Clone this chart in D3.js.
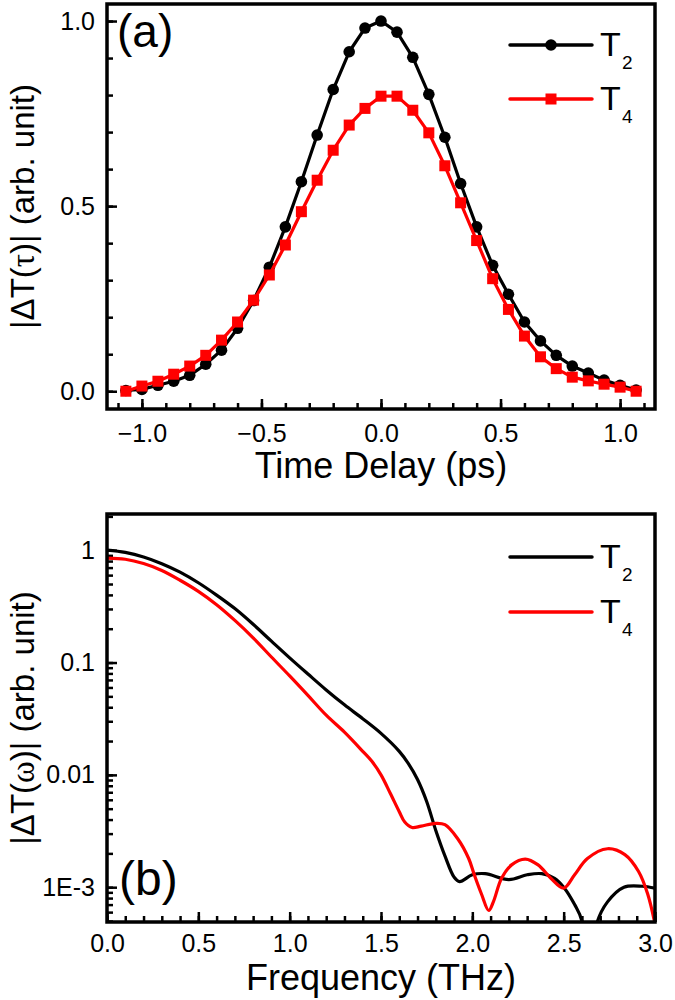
<!DOCTYPE html>
<html>
<head>
<meta charset="utf-8">
<script src="https://cdn.jsdelivr.net/npm/d3@7"></script>
<style>
body { margin: 0; background: #fff; }
svg { display: block; font-family: "Liberation Sans", Arial, sans-serif; }
</style>
</head>
<body>
<svg id="chart" width="675" height="1000"></svg>
<script>
// panel (a): time domain, points every ~0.067 ps
const delay = [-1.067, -1.000, -0.933, -0.867, -0.800, -0.733, -0.667, -0.600, -0.533, -0.467, -0.400,
    -0.333, -0.267, -0.200, -0.133, -0.067, 0.000, 0.067, 0.133, 0.200, 0.267, 0.333, 0.400, 0.467,
    0.533, 0.600, 0.667, 0.733, 0.800, 0.867, 0.933, 1.000, 1.067];
const t2Time = [0.002, 0.005, 0.016, 0.027, 0.043, 0.073, 0.111, 0.170, 0.245, 0.335, 0.444,
    0.566, 0.692, 0.815, 0.917, 0.981, 1.000, 0.970, 0.902, 0.802, 0.686, 0.561, 0.444, 0.340,
    0.262, 0.187, 0.136, 0.097, 0.068, 0.049, 0.030, 0.016, 0.003];
const t4Time = [0.000, 0.014, 0.027, 0.046, 0.068, 0.097, 0.138, 0.187, 0.246, 0.314, 0.395,
    0.485, 0.570, 0.651, 0.719, 0.764, 0.797, 0.797, 0.759, 0.698, 0.609, 0.509, 0.407, 0.304,
    0.221, 0.149, 0.093, 0.061, 0.038, 0.028, 0.019, 0.011, 0.000];

// panel (b): spectra
const freqT2 = [0.0, 0.1, 0.2, 0.3, 0.4, 0.5, 0.6, 0.7, 0.8, 0.9, 1.0, 1.1, 1.2, 1.3, 1.4, 1.5,
    1.6, 1.65, 1.7, 1.75, 1.8, 1.85, 1.9, 1.93, 2.0, 2.07, 2.2, 2.3, 2.38, 2.45, 2.5, 2.56, 2.6,
    2.63, 2.68, 2.74, 2.83, 2.93, 3.0];
const t2Freq = [1.0, 0.955, 0.871, 0.759, 0.638, 0.513, 0.398, 0.302, 0.219, 0.155, 0.110, 0.079,
    0.057, 0.042, 0.0316, 0.0234, 0.0162, 0.0126, 0.0091, 0.0058, 0.0032, 0.0019, 0.00123, 0.00112,
    0.00129, 0.00132, 0.00117, 0.00129, 0.00132, 0.0012, 0.001, 0.0007, 0.0005, 0.0001, 0.00047,
    0.00074, 0.001, 0.00102, 0.00098];
const freqT4 = [0.0, 0.1, 0.2, 0.3, 0.4, 0.5, 0.6, 0.7, 0.8, 0.9, 1.0, 1.1, 1.2, 1.3, 1.4, 1.45,
    1.5, 1.55, 1.6, 1.63, 1.67, 1.72, 1.8, 1.85, 1.92, 1.98, 2.01, 2.05, 2.09, 2.115, 2.16, 2.215, 2.29,
    2.36, 2.43, 2.5, 2.56, 2.63, 2.74, 2.835, 2.91, 2.96, 3.0];
const t4Freq = [0.85, 0.83, 0.76, 0.66, 0.54, 0.43, 0.327, 0.237, 0.166, 0.112, 0.076, 0.051, 0.034,
    0.024, 0.0162, 0.0132, 0.0100, 0.0069, 0.0047, 0.0038, 0.0034, 0.0035, 0.0037, 0.0036, 0.0027, 0.0018,
    0.0013, 0.00087, 0.00062, 0.00074, 0.0012, 0.00158, 0.00178, 0.00158, 0.0012, 0.00098, 0.00129,
    0.0018, 0.0022, 0.00195, 0.00138, 0.00087, 0.00047];

const timeTicks = [-1.0, -0.5, 0.0, 0.5, 1.0];
const ampTicks = [0.0, 0.5, 1.0];
const freqTicks = [0.0, 0.5, 1.0, 1.5, 2.0, 2.5, 3.0];
const logTicks = [1, 0.1, 0.01, 0.001];
const logLabels = ['1', '0.1', '0.01', '1E-3'];
const seriesNames = ['2', '4'];
const seriesColors = ['#000000', '#ff0000'];

class Panel {

    constructor(config, series) {
        this.config = config;
        this.series = series;
        this.init();
        this.render();
    }

    init() {
        let self = this;
        let c = self.config;

        self.svg = d3.select(c.parent);
        self.chart = self.svg.append('g')
            .attr('transform', `translate(${c.left}, ${c.top})`);

        self.xscale = d3.scaleLinear().domain(c.xdomain).range([0, c.width]);
        self.yscale = (c.ylog ? d3.scaleLog() : d3.scaleLinear())
            .domain(c.ydomain).range([c.height, 0]);

        self.chart.append('clipPath').attr('id', c.id + '-clip')
            .append('rect').attr('width', c.width).attr('height', c.height);

        // minor ticks (no labels)
        let xminor = d3.axisBottom(self.xscale).tickValues(c.xminor).tickSize(-6).tickFormat('');
        let yminor = d3.axisLeft(self.yscale).tickValues(c.yminor).tickSize(-6).tickFormat('');
        self.chart.append('g').attr('transform', `translate(0, ${c.height})`).call(xminor);
        self.chart.append('g').call(yminor);

        let xaxis = d3.axisBottom(self.xscale).tickValues(c.xticks).tickSize(-10)
            .tickPadding(c.xpad).tickFormat(d3.format('.1f'));
        let yaxis = d3.axisLeft(self.yscale).tickValues(c.yticks).tickSize(-10)
            .tickPadding(12).tickFormat(c.yformat);
        self.chart.append('g').attr('transform', `translate(0, ${c.height})`).call(xaxis);
        self.chart.append('g').call(yaxis);

        self.chart.selectAll('.domain').remove();
        self.chart.selectAll('.tick line').attr('stroke', '#000').attr('stroke-width', 2.5);
        self.chart.selectAll('.tick text')
            .attr('fill', '#000')
            .attr('font-size', '25px')
            .attr('font-family', '"Liberation Sans", Arial, sans-serif');
    }

    render() {
        let self = this;
        let c = self.config;

        let line = d3.line()
            .x(d => self.xscale(d[0]))
            .y(d => self.yscale(d[1]))
            .curve(c.curve);

        let plot = self.chart.append('g').attr('clip-path', `url(#${c.id}-clip)`);

        self.series.forEach((s, i) => {
            let pts = s.x.map((v, j) => [v, s.y[j]]);
            plot.append('path')
                .attr('d', line(pts))
                .attr('fill', 'none')
                .attr('stroke', seriesColors[i])
                .attr('stroke-width', 3.2)
                .attr('stroke-linejoin', 'round');

            if (c.markers) {
                if (i === 0) {
                    plot.selectAll('circle.m' + i).data(pts).enter()
                        .append('circle')
                        .attr('cx', d => self.xscale(d[0]))
                        .attr('cy', d => self.yscale(d[1]))
                        .attr('r', 5.8)
                        .attr('fill', seriesColors[i]);
                } else {
                    plot.selectAll('rect.m' + i).data(pts).enter()
                        .append('rect')
                        .attr('x', d => self.xscale(d[0]) - 5.5)
                        .attr('y', d => self.yscale(d[1]) - 5.5)
                        .attr('width', 11)
                        .attr('height', 11)
                        .attr('fill', seriesColors[i]);
                }
            }
        });

        // frame
        self.chart.append('rect')
            .attr('width', c.width)
            .attr('height', c.height)
            .attr('fill', 'none')
            .attr('stroke', '#000')
            .attr('stroke-width', 3.5);

        // legend
        let lg = self.chart.append('g');
        seriesNames.forEach((name, i) => {
            let ly = c.legendY[i] - c.top;
            lg.append('line')
                .attr('x1', 510 - c.left).attr('x2', 592 - c.left)
                .attr('y1', ly).attr('y2', ly)
                .attr('stroke', seriesColors[i])
                .attr('stroke-width', 3.5)
                .attr('stroke-linecap', 'round');
            if (c.markers) {
                if (i === 0) {
                    lg.append('circle').attr('cx', 551 - c.left).attr('cy', ly).attr('r', 5.8)
                        .attr('fill', seriesColors[i]);
                } else {
                    lg.append('rect').attr('x', 551 - c.left - 5.5).attr('y', ly - 5.5)
                        .attr('width', 11).attr('height', 11).attr('fill', seriesColors[i]);
                }
            }
            lg.append('text')
                .attr('x', 600 - c.left).attr('y', ly + 11)
                .attr('font-size', '34px')
                .text('T');
            lg.append('text')
                .attr('x', 622 - c.left).attr('y', ly + 24)
                .attr('font-size', '19px')
                .text(name);
        });

        // panel tag
        self.chart.append('text')
            .attr('x', c.tagX - c.left)
            .attr('y', c.tagY - c.top)
            .attr('font-size', c.tagSize)
            .text(c.tag);

        // axis titles
        self.svg.append('text')
            .attr('x', c.left + c.width / 2)
            .attr('y', c.xlabelY)
            .attr('font-size', '36px')
            .attr('text-anchor', 'middle')
            .text(c.xlabel);

        let yt = self.svg.append('text')
            .attr('transform', `translate(34, ${c.top + c.height / 2}) rotate(-90)`)
            .attr('font-size', '33px')
            .attr('text-anchor', 'middle');
        yt.append('tspan').text('|\u0394T(');
        yt.append('tspan').attr('font-family', '"Liberation Serif", serif').text(c.greek);
        yt.append('tspan').text(')| (arb. unit)');
    }
}

const svg = '#chart';

new Panel({
    parent: svg, id: 'pa',
    left: 107, top: 4, width: 548, height: 405,
    xdomain: [-1.146, 1.146], ydomain: [-0.048, 1.046], ylog: false,
    xticks: timeTicks, xminor: d3.range(-11, 12).map(d => d / 10),
    yticks: ampTicks, yminor: d3.range(0, 11).map(d => d / 10),
    yformat: d3.format('.1f'), xpad: 15,
    curve: d3.curveLinear, markers: true,
    legendY: [45, 99],
    tag: '(a)', tagX: 117, tagY: 47, tagSize: '46px',
    xlabel: 'Time Delay (ps)', xlabelY: 478, greek: '\u03C4'
}, [
    { x: delay, y: t2Time },
    { x: delay, y: t4Time }
]);

let logFmt = d => {
    let i = logTicks.indexOf(d);
    return i >= 0 ? logLabels[i] : '';
};

new Panel({
    parent: svg, id: 'pb',
    left: 107, top: 514, width: 548, height: 408,
    xdomain: [0, 3], ydomain: [0.00049, 2.1], ylog: true,
    xticks: freqTicks, xminor: d3.range(0, 31).map(d => d / 10),
    yticks: logTicks, yminor: d3.scaleLog().domain([0.00049, 2.1]).ticks(),
    yformat: logFmt, xpad: 12,
    curve: d3.curveCatmullRom.alpha(0.5), markers: false,
    legendY: [557, 612],
    tag: '(b)', tagX: 119, tagY: 895, tagSize: '48px',
    xlabel: 'Frequency (THz)', xlabelY: 990, greek: '\u03C9'
}, [
    { x: freqT2, y: t2Freq },
    { x: freqT4, y: t4Freq }
]);
</script>
</body>
</html>
